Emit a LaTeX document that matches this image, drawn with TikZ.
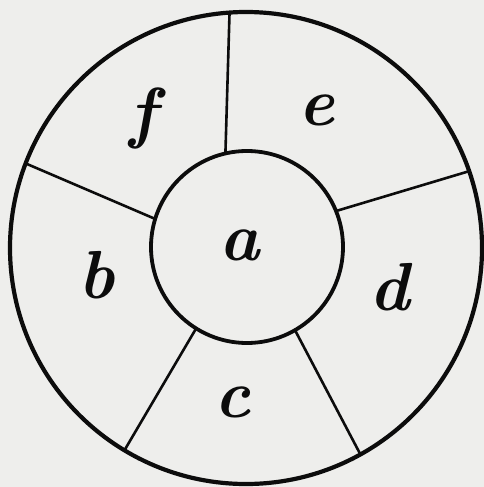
\documentclass[tikz,border=0pt]{standalone}
\usepackage{tikz}
\definecolor{paper}{RGB}{238,238,236}
\definecolor{ink}{RGB}{12,12,12}
\begin{document}
\begin{tikzpicture}[x=1pt,y=-1pt,
  ring/.style={circle,draw=ink,inner sep=0pt,outer sep=0pt},
  spoke/.style={draw=ink,line width=2.6pt,line cap=round},
  letter/.style={text=ink,inner sep=0pt,font=\fontsize{68}{72}\selectfont\bfseries\itshape}]
\fill[paper] (0,0) rectangle (484,487);
\useasboundingbox (0,0) rectangle (484,487);
\node[ring,line width=4.2pt,minimum size=472pt] (outer) at (246,248) {};
\node[ring,line width=3.8pt,minimum size=192pt] (inner) at (247,247) {};
\draw[spoke] (inner.103) -- (outer.94.6);
\draw[spoke] (inner.22) -- (outer.19.2);
\draw[spoke] (inner.-60.5) -- (outer.-61.4);
\draw[spoke] (inner.-122.4) -- (outer.-121.8);
\draw[spoke] (inner.163.3) -- (outer.159);
\node[letter] (la) at (240,245) {a};
\node[letter] (lb) at (97,275) {b};
\node[letter] (lc) at (233,402) {c};
\node[letter] (ld) at (390,287) {d};
\node[letter] (le) at (317,110) {e};
\node[letter] (lf) at (143,118) {f};
\end{tikzpicture}
\end{document}
